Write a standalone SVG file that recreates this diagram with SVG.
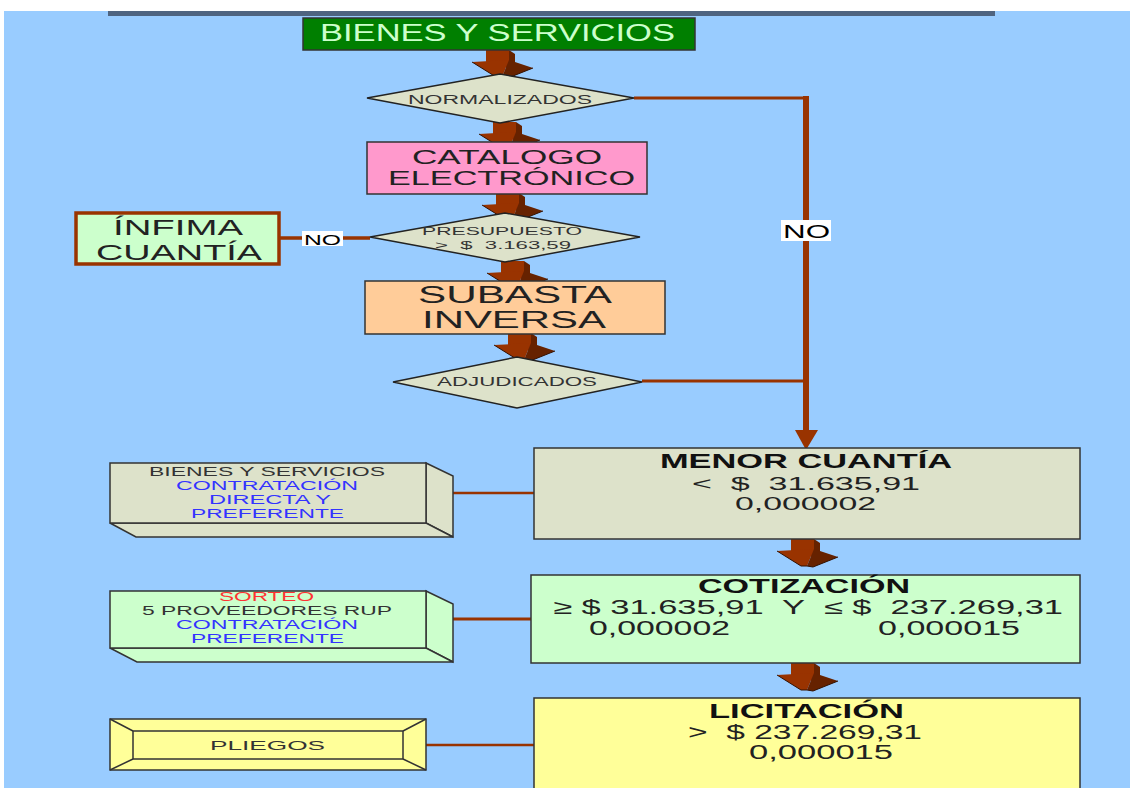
<svg xmlns="http://www.w3.org/2000/svg" width="1130" height="788" viewBox="0 0 1130 788">
  <style>
    text { font-family: "Liberation Sans", Arial, sans-serif; }
    .box { stroke: #333333; stroke-width: 1.5; }
    .dia { fill: #DDE2CA; stroke: #222222; stroke-width: 1.5; }
    .lbl { fill: #222222; }
    .blue { fill: #3333FF; }
    .link { stroke: #993300; fill: none; }
    .tag { fill: #FFFFFF; }
  </style>
  <defs>
    <!-- oblique 3-D block arrow pointing down, origin at shaft top centre -->
    <g id="blockArrow">
      <rect x="-12" y="0" width="23" height="17" fill="#993300"/>
      <polygon points="11,0 17,4 17,17 11,17" fill="#662200"/>
      <polygon points="-26,12 11,10 4,27 -2,27" fill="#993300"/>
      <polygon points="11,10 35,18 10,28 4,27" fill="#662200"/>
      <polyline points="-26,12 -2,27 4,27 10,28 35,18" fill="none" stroke="#331100" stroke-width="1"/>
    </g>
  </defs>

  <!-- page -->
  <rect x="0" y="0" width="1130" height="788" fill="#FFFFFF"/>
  <rect x="4" y="11" width="1126" height="777" fill="#99CCFF"/>
  <rect x="108" y="11" width="887" height="5" fill="#4F6480"/>

  <!-- connectors -->
  <g id="connectors">
    <use href="#blockArrow" x="498" y="50"/>
    <use href="#blockArrow" x="505" y="122"/>
    <use href="#blockArrow" x="508" y="193"/>
    <use href="#blockArrow" x="513" y="261"/>
    <use href="#blockArrow" x="520" y="333"/>
    <use href="#blockArrow" x="803" y="539"/>
    <use href="#blockArrow" x="803" y="663"/>

    <polyline class="link" stroke-width="3" points="634,98 806,98"/>
    <line class="link" stroke-width="6" x1="806" y1="96" x2="806" y2="432"/>
    <polygon points="795,430 818,430 806,450" fill="#993300"/>
    <line class="link" stroke-width="3" x1="642" y1="381" x2="806" y2="381"/>
    <rect class="tag" x="781" y="220" width="50" height="21"/>
    <text x="783" y="238" font-size="19" textLength="47" lengthAdjust="spacingAndGlyphs" fill="#000000">NO</text>

    <line class="link" stroke-width="3.5" x1="280" y1="238" x2="370" y2="238"/>
    <rect class="tag" x="302" y="231" width="41" height="15"/>
    <text x="304" y="245" font-size="14" textLength="37" lengthAdjust="spacingAndGlyphs" fill="#000000">NO</text>

    <line class="link" stroke-width="2.5" x1="423" y1="493" x2="535" y2="493"/>
    <line class="link" stroke-width="3" x1="423" y1="619" x2="531" y2="619"/>
    <line class="link" stroke-width="2.5" x1="423" y1="745" x2="535" y2="745"/>
  </g>

  <g id="bienes-servicios">
    <rect class="box" x="303" y="18" width="392" height="32" fill="#007F00"/>
    <text x="320" y="41" font-size="23" textLength="355" lengthAdjust="spacingAndGlyphs" fill="#CCFFCC">BIENES Y SERVICIOS</text>
  </g>

  <g id="normalizados">
    <polygon class="dia" points="367,98 500,74 634,98 500,123"/>
    <text x="408" y="104" font-size="12.5" textLength="184" lengthAdjust="spacingAndGlyphs" fill="#333333">NORMALIZADOS</text>
  </g>

  <g id="catalogo">
    <rect class="box" x="367" y="142" width="280" height="52" fill="#FF99CC"/>
    <text class="lbl" x="412" y="164" font-size="21" textLength="190" lengthAdjust="spacingAndGlyphs">CATALOGO</text>
    <text class="lbl" x="388" y="185" font-size="21" textLength="247" lengthAdjust="spacingAndGlyphs">ELECTRÓNICO</text>
  </g>

  <g id="presupuesto">
    <polygon class="dia" points="370,237 505,213 640,237 505,262"/>
    <text x="422" y="235" font-size="11.5" textLength="160" lengthAdjust="spacingAndGlyphs" fill="#333333">PRESUPUESTO</text>
    <text x="435" y="249" font-size="11.5" textLength="136" lengthAdjust="spacingAndGlyphs" fill="#333333" xml:space="preserve">&gt;  $  3.163,59</text>
  </g>

  <g id="infima">
    <rect x="76" y="213" width="203" height="51" fill="#CCFFCC" stroke="#993300" stroke-width="3.5"/>
    <text class="lbl" x="113" y="235" font-size="22" textLength="130" lengthAdjust="spacingAndGlyphs">ÍNFIMA</text>
    <text class="lbl" x="96" y="260" font-size="22" textLength="166" lengthAdjust="spacingAndGlyphs">CUANTÍA</text>
  </g>

  <g id="subasta">
    <rect class="box" x="365" y="281" width="300" height="53" fill="#FFCC99"/>
    <text class="lbl" x="418" y="303" font-size="24" textLength="194" lengthAdjust="spacingAndGlyphs">SUBASTA</text>
    <text class="lbl" x="422" y="328" font-size="24" textLength="184" lengthAdjust="spacingAndGlyphs">INVERSA</text>
  </g>

  <g id="adjudicados">
    <polygon class="dia" points="393,382 517,357 642,382 517,408"/>
    <text x="437" y="386" font-size="12.5" textLength="160" lengthAdjust="spacingAndGlyphs" fill="#333333">ADJUDICADOS</text>
  </g>

  <g id="menor-cuantia">
    <rect class="box" x="534" y="448" width="546" height="91" fill="#DDE2CA"/>
    <text x="660" y="468" font-size="20" font-weight="bold" textLength="292" lengthAdjust="spacingAndGlyphs" fill="#111111">MENOR CUANTÍA</text>
    <text class="lbl" x="692" y="490" font-size="19" textLength="228" lengthAdjust="spacingAndGlyphs" xml:space="preserve">&lt;  $  31.635,91</text>
    <text class="lbl" x="735" y="510" font-size="19" textLength="141" lengthAdjust="spacingAndGlyphs">0,000002</text>
  </g>

  <g id="directa">
    <polygon class="box" points="426,463 453,476 453,537 426,523" fill="#DDE2CA"/>
    <polygon class="box" points="110,523 136,537 453,537 426,523" fill="#DDE2CA"/>
    <rect class="box" x="110" y="463" width="316" height="60" fill="#DDE2CA"/>
    <text x="149" y="476" font-size="12" textLength="236" lengthAdjust="spacingAndGlyphs" fill="#333333">BIENES Y SERVICIOS</text>
    <text class="blue" x="176" y="490" font-size="12" textLength="182" lengthAdjust="spacingAndGlyphs">CONTRATACIÓN</text>
    <text class="blue" x="209" y="504" font-size="12" textLength="122" lengthAdjust="spacingAndGlyphs">DIRECTA Y</text>
    <text class="blue" x="191" y="518" font-size="12" textLength="153" lengthAdjust="spacingAndGlyphs">PREFERENTE</text>
  </g>

  <g id="cotizacion">
    <rect class="box" x="531" y="575" width="549" height="88" fill="#CCFFCC"/>
    <text x="698" y="593" font-size="20" font-weight="bold" textLength="212" lengthAdjust="spacingAndGlyphs" fill="#111111">COTIZACIÓN</text>
    <text class="lbl" x="553" y="614" font-size="20" textLength="510" lengthAdjust="spacingAndGlyphs" xml:space="preserve">≥ $ 31.635,91  Y  ≤ $  237.269,31</text>
    <text class="lbl" x="589" y="635" font-size="20" textLength="141" lengthAdjust="spacingAndGlyphs">0,000002</text>
    <text class="lbl" x="878" y="635" font-size="20" textLength="142" lengthAdjust="spacingAndGlyphs">0,000015</text>
  </g>

  <g id="sorteo">
    <polygon class="box" points="426,591 453,604 453,662 426,648" fill="#CCFFCC"/>
    <polygon class="box" points="110,648 137,662 453,662 426,648" fill="#CCFFCC"/>
    <rect class="box" x="110" y="591" width="316" height="57" fill="#CCFFCC"/>
    <text x="219" y="601" font-size="12" textLength="95" lengthAdjust="spacingAndGlyphs" fill="#FF3333">SORTEO</text>
    <text x="142" y="615" font-size="12" textLength="250" lengthAdjust="spacingAndGlyphs" fill="#333333">5 PROVEEDORES RUP</text>
    <text class="blue" x="176" y="629" font-size="12" textLength="182" lengthAdjust="spacingAndGlyphs">CONTRATACIÓN</text>
    <text class="blue" x="191" y="643" font-size="12" textLength="153" lengthAdjust="spacingAndGlyphs">PREFERENTE</text>
  </g>

  <g id="licitacion">
    <rect class="box" x="534" y="698" width="546" height="95" fill="#FFFF99"/>
    <text x="709" y="718" font-size="20" font-weight="bold" textLength="195" lengthAdjust="spacingAndGlyphs" fill="#111111">LICITACIÓN</text>
    <text class="lbl" x="688" y="739" font-size="20" textLength="234" lengthAdjust="spacingAndGlyphs" xml:space="preserve">&gt;  $ 237.269,31</text>
    <text class="lbl" x="749" y="759" font-size="20" textLength="144" lengthAdjust="spacingAndGlyphs">0,000015</text>
  </g>

  <g id="pliegos">
    <rect class="box" x="110" y="719" width="316" height="51" fill="#FFFF99"/>
    <rect class="box" x="133" y="731" width="270" height="28" fill="#FFFF99"/>
    <path d="M110,719 L133,731 M426,719 L403,731 M110,770 L133,759 M426,770 L403,759" stroke="#333333" stroke-width="1.5"/>
    <text x="210" y="750" font-size="13.5" textLength="115" lengthAdjust="spacingAndGlyphs" fill="#333333">PLIEGOS</text>
  </g>
</svg>
